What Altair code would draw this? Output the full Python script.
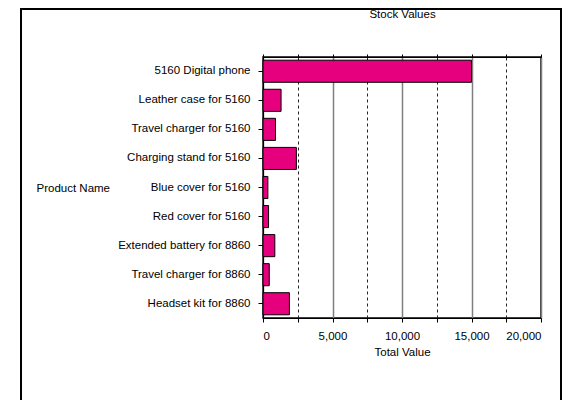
import altair as alt
import pandas as pd

products = [
    "5160 Digital phone",
    "Leather case for 5160",
    "Travel charger for 5160",
    "Charging stand for 5160",
    "Blue cover for 5160",
    "Red cover for 5160",
    "Extended battery for 8860",
    "Travel charger for 8860",
    "Headset kit for 8860",
]
values = [15000, 1300, 900, 2400, 350, 400, 850, 450, 1900]
x_ticks = [0, 2500, 5000, 7500, 10000, 12500, 15000, 17500, 20000]

df = pd.DataFrame({"Product Name": products, "Total Value": values})

FONT = "Liberation Sans"
FS = 11.5

x_scale = alt.Scale(domain=[0, 20000], nice=False)
y_scale = alt.Scale(paddingInner=0.24, paddingOuter=0.11)

bars = alt.Chart(df).mark_bar(
    color="#E6007E", stroke="black", strokeWidth=1
).encode(
    x=alt.X(
        "Total Value:Q",
        scale=x_scale,
        axis=alt.Axis(
            values=x_ticks,
            labelExpr="datum.value % 5000 === 0 ? format(datum.value, ',') : ''",
            grid=True,
            gridColor={"condition": {"test": "datum.value % 5000 === 0", "value": "#7f7f7f"}, "value": "#222222"},
            gridDash={"condition": {"test": "datum.value % 5000 === 0", "value": []}, "value": [3, 3]},
            gridWidth={"condition": {"test": "datum.value % 5000 === 0", "value": 1.5}, "value": 1},
            domainColor="black",
            tickColor="black",
            tickSize=4,
            labelPadding=8,
            labelColor="black",
            labelFont=FONT,
            labelFontSize=FS,
            title="Total Value",
            titleFont=FONT,
            titleFontSize=FS,
            titleFontWeight="normal",
            titleColor="black",
            titlePadding=5,
        ),
    ),
    y=alt.Y(
        "Product Name:N",
        sort=None,
        scale=y_scale,
        axis=alt.Axis(
            domainColor="black",
            tickColor="black",
            tickSize=5,
            labelPadding=8,
            labelColor="black",
            labelFont=FONT,
            labelFontSize=FS,
            title="Product Name",
            titleAngle=0,
            titleAlign="left",
            titleBaseline="middle",
            titleX=-227,
            titleY=131,
            titleFont=FONT,
            titleFontSize=FS,
            titleFontWeight="normal",
            titleColor="black",
        ),
    ),
)

top_ticks = alt.Chart(df).mark_point(opacity=0).encode(
    x=alt.X(
        "Total Value:Q",
        scale=x_scale,
        axis=alt.Axis(
            orient="top",
            values=x_ticks,
            labels=False,
            grid=False,
            domain=True,
            domainColor="black",
            tickColor="black",
            tickSize=3,
            title="Stock Values",
            titleFont=FONT,
            titleFontSize=FS,
            titleFontWeight="normal",
            titleColor="black",
            titleBaseline="middle",
            titleY=-43,
        ),
    ),
)

frame = alt.Chart(alt.Data(values=[{"k": 1}])).mark_rect(
    filled=False, stroke="black", strokeWidth=2, clip=False
).encode(
    x=alt.value(-242),
    x2=alt.value(298),
    y=alt.value(-48),
    y2=alt.value(420),
)

chart = alt.layer(bars, top_ticks, frame).resolve_axis(x="independent").properties(
    width=278,
    height=261,
    autosize=alt.AutoSizeParams(type="none"),
    padding={"left": 255, "top": 49, "right": 21, "bottom": 82},
).configure_view(stroke="black", strokeWidth=1.5)

chart.save("out.html", embed_options={"renderer": "svg", "actions": False})
